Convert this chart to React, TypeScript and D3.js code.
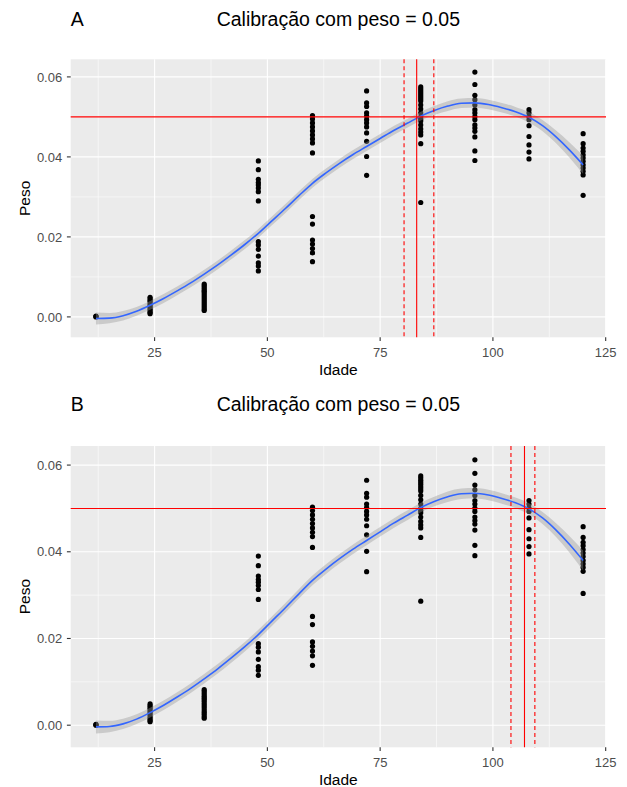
import React from "react";
import * as d3 from "d3";

const ages = [12, 24, 36, 48, 60, 72, 84, 96, 108, 120];
const peso12 = [0.0, 0.0001, 0.0002];
const peso24 = [0.0049, 0.0045, 0.0041, 0.0037, 0.0032, 0.0028, 0.0024, 0.0019, 0.0015, 0.0011, 0.0008];
const peso36 = [0.0082, 0.0078, 0.0073, 0.0068, 0.0064, 0.006, 0.0055, 0.005, 0.0045, 0.004, 0.0035, 0.003, 0.0025, 0.002, 0.0016];
const peso48 = [0.039, 0.0368, 0.0344, 0.0336, 0.033, 0.0322, 0.0313, 0.029, 0.0188, 0.018, 0.0169, 0.0152, 0.0135, 0.0127, 0.0115];
const peso60 = [0.0503, 0.0495, 0.0485, 0.0475, 0.0465, 0.0455, 0.0445, 0.0435, 0.041, 0.0251, 0.0232, 0.0192, 0.0182, 0.0171, 0.016, 0.0138];
const peso72 = [0.0565, 0.0535, 0.0526, 0.051, 0.0502, 0.0493, 0.0485, 0.0475, 0.046, 0.0439, 0.0401, 0.0354];
const peso84 = [0.0575, 0.057, 0.0565, 0.056, 0.0555, 0.055, 0.0545, 0.054, 0.053, 0.052, 0.051, 0.05, 0.0495, 0.049, 0.048, 0.047, 0.0462, 0.0455, 0.0433, 0.0286];
const peso96 = [0.0612, 0.0581, 0.0554, 0.0543, 0.053, 0.0518, 0.051, 0.0501, 0.0493, 0.048, 0.0472, 0.0464, 0.045, 0.0415, 0.0391];
const peso108 = [0.0518, 0.051, 0.0501, 0.0493, 0.0478, 0.0451, 0.043, 0.0412, 0.0395];
const peso120 = [0.0458, 0.0433, 0.0422, 0.0414, 0.0405, 0.0397, 0.0389, 0.038, 0.0372, 0.0364, 0.0355, 0.0304];
const pesoByAge = [peso12, peso24, peso36, peso48, peso60, peso72, peso84, peso96, peso108, peso120];

const smoothX = [12, 15, 18, 21, 24, 27, 30, 33, 36, 39, 42, 45, 48, 51, 54, 57, 60, 63, 66, 69, 72, 75, 78, 81, 84, 87, 90, 93, 96, 99, 102, 105, 108, 111, 114, 117, 120];
const smoothY = [-0.0004, -0.0003, 0.0003, 0.0014, 0.0029, 0.0046, 0.0065, 0.0085, 0.0107, 0.013, 0.0155, 0.0181, 0.0209, 0.024, 0.0271, 0.0303, 0.0334, 0.036, 0.0384, 0.0406, 0.0426, 0.0446, 0.0466, 0.0484, 0.0502, 0.0516, 0.0527, 0.0534, 0.0535, 0.0531, 0.0523, 0.0513, 0.0499, 0.0478, 0.045, 0.0417, 0.038];
const smoothSE = [0.0015, 0.0013, 0.0012, 0.0011, 0.0011, 0.0011, 0.0011, 0.0011, 0.0011, 0.0011, 0.0011, 0.0011, 0.0011, 0.0011, 0.0011, 0.0011, 0.0011, 0.0011, 0.0011, 0.0011, 0.0011, 0.0011, 0.0011, 0.0011, 0.0011, 0.0011, 0.0012, 0.0012, 0.0012, 0.0012, 0.0012, 0.0012, 0.0013, 0.0014, 0.0016, 0.0019, 0.0023];

const xTicks = [25, 50, 75, 100, 125];
const xMinor = [12.5, 37.5, 62.5, 87.5, 112.5];
const yTicks = [0, 0.02, 0.04, 0.06];
const yTickLabels = ["0.00", "0.02", "0.04", "0.06"];
const yMinor = [0.01, 0.03, 0.05];

const hLine = 0.05;
const panelA = { tag: "A", vline: 83.1, lo: 80.3, hi: 86.9 };
const panelB = { tag: "B", vline: 107.0, lo: 104.0, hi: 109.3 };
const title = "Calibração com peso = 0.05";

const FONT = "'Liberation Sans', Arial, Helvetica, sans-serif";

function Panel({ cfg, top, bottom, titleBase }: { cfg: typeof panelA; top: number; bottom: number; titleBase: number }) {
  const left = 70.7;
  const right = 606;
  const x = d3.scaleLinear().domain([6.4, 125.07]).range([left, right]);
  const y = d3.scaleLinear().domain([-0.0051, 0.0644]).range([bottom, top]);
  const pts = smoothX.map((sx, i) => ({ x: sx, y: smoothY[i], se: smoothSE[i] }));
  const area = d3
    .area<{ x: number; y: number; se: number }>()
    .x((d) => x(d.x))
    .y0((d) => y(d.y - d.se))
    .y1((d) => y(d.y + d.se))
    .curve(d3.curveMonotoneX);
  const line = d3
    .line<{ x: number; y: number; se: number }>()
    .x((d) => x(d.x))
    .y((d) => y(d.y))
    .curve(d3.curveMonotoneX);
  const cx = (left + right) / 2;
  return (
    <g fontFamily={FONT}>
      <text x={left} y={titleBase} fontSize={19.5} fill="#000">{cfg.tag}</text>
      <text x={cx} y={titleBase} fontSize={19.5} textAnchor="middle" fill="#000">{title}</text>
      <rect x={left} y={top} width={right - left} height={bottom - top} fill="#EBEBEB" />
      {yMinor.map((v) => (
        <line key={"ym" + v} x1={left} x2={right} y1={y(v)} y2={y(v)} stroke="#fff" strokeWidth={0.55} />
      ))}
      {xMinor.map((v) => (
        <line key={"xm" + v} x1={x(v)} x2={x(v)} y1={top} y2={bottom} stroke="#fff" strokeWidth={0.55} />
      ))}
      {yTicks.map((v) => (
        <line key={"yM" + v} x1={left} x2={right} y1={y(v)} y2={y(v)} stroke="#fff" strokeWidth={1.1} />
      ))}
      {xTicks.map((v) => (
        <line key={"xM" + v} x1={x(v)} x2={x(v)} y1={top} y2={bottom} stroke="#fff" strokeWidth={1.1} />
      ))}
      {ages.map((a, i) =>
        pesoByAge[i].map((v, j) => <circle key={a + "-" + j} cx={x(a)} cy={y(v)} r={2.6} fill="#000" />)
      )}
      <path d={area(pts) || ""} fill="#999999" fillOpacity={0.4} />
      <path d={line(pts) || ""} fill="none" stroke="#3366FF" strokeWidth={1.6} />
      <line x1={left} x2={right} y1={y(hLine)} y2={y(hLine)} stroke="#FF0000" strokeWidth={1.1} />
      <line x1={x(cfg.vline)} x2={x(cfg.vline)} y1={top} y2={bottom} stroke="#FF0000" strokeWidth={1.1} />
      <line x1={x(cfg.lo)} x2={x(cfg.lo)} y1={top} y2={bottom} stroke="#FF0000" strokeWidth={1.1} strokeDasharray="4,3" />
      <line x1={x(cfg.hi)} x2={x(cfg.hi)} y1={top} y2={bottom} stroke="#FF0000" strokeWidth={1.1} strokeDasharray="4,3" />
      {yTicks.map((v, i) => (
        <g key={"yt" + v}>
          <line x1={left - 3.8} x2={left} y1={y(v)} y2={y(v)} stroke="#333" strokeWidth={1.1} />
          <text x={left - 8.5} y={y(v)} dy="0.36em" textAnchor="end" fontSize={13} fill="#4D4D4D">{yTickLabels[i]}</text>
        </g>
      ))}
      {xTicks.map((v) => (
        <g key={"xt" + v}>
          <line x1={x(v)} x2={x(v)} y1={bottom} y2={bottom + 3.8} stroke="#333" strokeWidth={1.1} />
          <text x={x(v)} y={bottom + 19.8} textAnchor="middle" fontSize={13} fill="#4D4D4D">{v}</text>
        </g>
      ))}
      <text x={cx} y={bottom + 37.7} textAnchor="middle" fontSize={15.5} fill="#000">Idade</text>
      <text transform={`translate(29.5,${(top + bottom) / 2}) rotate(-90)`} textAnchor="middle" fontSize={15.5} fill="#000">Peso</text>
    </g>
  );
}

export default function App() {
  return (
    <svg width={627} height={787} style={{ position: "absolute", left: 0, top: 0, background: "#fff" }}>
      <rect width={627} height={787} fill="#fff" />
      <Panel cfg={panelA} top={59.3} bottom={337.3} titleBase={26} />
      <Panel cfg={panelB} top={446} bottom={747.3} titleBase={411} />
    </svg>
  );
}
